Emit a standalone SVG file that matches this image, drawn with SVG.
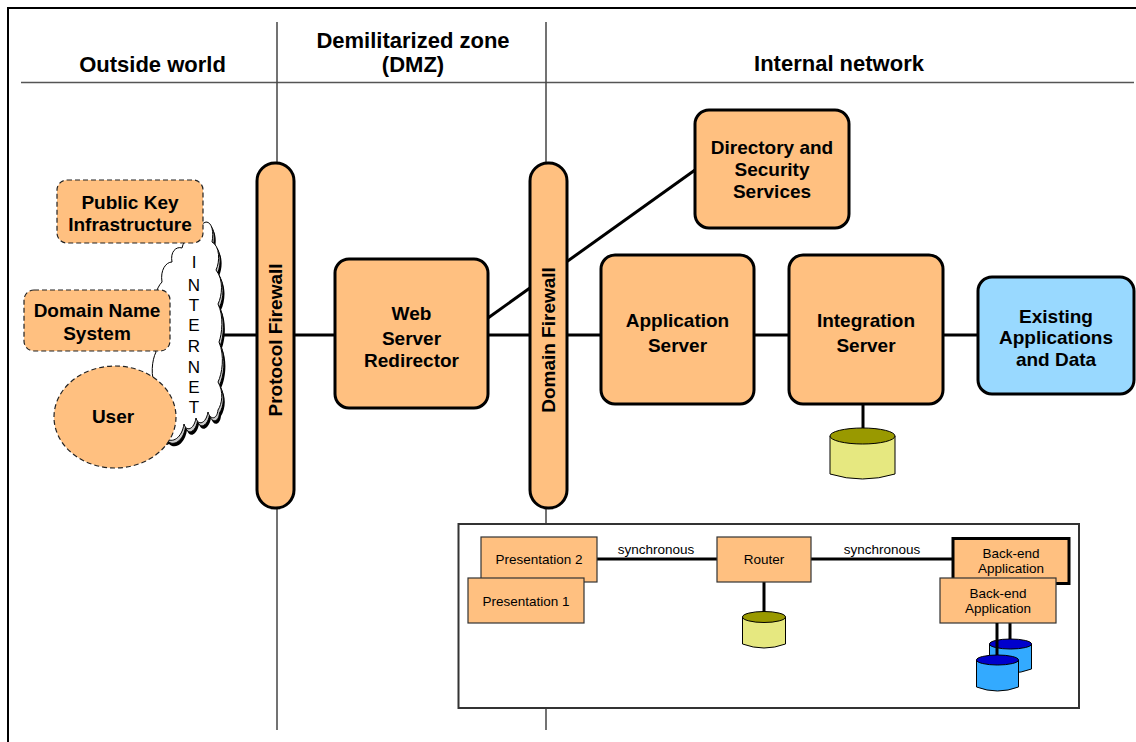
<svg xmlns="http://www.w3.org/2000/svg" width="1136" height="742" viewBox="0 0 1136 742">
<defs>
<style>
text{font-family:"Liberation Sans",Arial,sans-serif;fill:#000}
.hdr{font-size:22px;font-weight:bold;text-anchor:middle}
.nl{font-size:19px;font-weight:bold;text-anchor:middle}
.sm{font-size:13.5px;text-anchor:middle}
.let{font-size:17px;text-anchor:middle}
.box{fill:#FFC080;stroke:#000;stroke-width:3}
.dash{fill:#FFC080;stroke:#222;stroke-width:1.2;stroke-dasharray:5,3}
.sbox{fill:#FFC080;stroke:#333;stroke-width:1.2}
.conn{stroke:#000;stroke-width:3;fill:none}
.grid{stroke:#444;stroke-width:1.5;fill:none}
</style>
<path id="cloud" d="M206 222 C212 222 214 232 212 242 C220 246 220 262 216 270 C224 280 222 296 218 304 C224 316 222 334 219 342 C225 356 222 374 218 382 C224 392 222 404 218 410 C217 420 210 420 208 412 C206 424 198 426 196 418 C194 430 186 432 184 424 C182 438 172 444 166 438 C160 442 154 432 158 422 C150 410 152 396 156 388 C150 376 152 360 156 352 C150 338 152 324 157 316 C152 302 156 288 162 282 C160 270 166 262 172 262 C170 252 176 246 182 248 C184 238 192 236 196 240 C196 230 200 224 206 222 Z"/>
</defs>
<rect width="1136" height="742" fill="#fff"/>
<!-- frame and zone lines -->
<g id="frame">
<path d="M8 742 V8 H1136" stroke="#000" stroke-width="2" fill="none"/>
<line x1="21" y1="82.5" x2="1134" y2="82.5" stroke="#555" stroke-width="1.5"/>
<line x1="277" y1="22" x2="277" y2="730" class="grid"/>
<line x1="546" y1="22" x2="546" y2="730" class="grid"/>
<text class="hdr" x="152.5" y="72">Outside world</text>
<text class="hdr" x="413" y="48">Demilitarized zone</text>
<text class="hdr" x="413" y="72">(DMZ)</text>
<text class="hdr" x="839" y="71">Internal network</text>
</g>
<!-- connectors -->
<g id="connectors">
<line class="conn" x1="215" y1="335" x2="258" y2="335"/>
<line class="conn" x1="293" y1="335" x2="336" y2="335"/>
<line class="conn" x1="487" y1="335" x2="531" y2="335"/>
<line class="conn" x1="566" y1="335" x2="602" y2="335"/>
<line class="conn" x1="754" y1="335" x2="790" y2="335"/>
<line class="conn" x1="942" y1="335" x2="978" y2="335"/>
<line class="conn" x1="488" y1="318" x2="695" y2="170"/>
<line class="conn" x1="863" y1="404" x2="863" y2="436"/>
</g>
<g id="internet">
<use href="#cloud" transform="translate(3,6)" fill="#000"/>
<use href="#cloud" transform="translate(1.5,3)" fill="#ccc" stroke="#000" stroke-width="1"/>
<use href="#cloud" fill="#fff" stroke="#000" stroke-width="1"/>
<text class="let" x="194" y="268">I</text>
<text class="let" x="194" y="291">N</text>
<text class="let" x="194" y="311">T</text>
<text class="let" x="194" y="331">E</text>
<text class="let" x="194" y="352">R</text>
<text class="let" x="194" y="373">N</text>
<text class="let" x="194" y="393">E</text>
<text class="let" x="194" y="413">T</text>
</g>
<g id="pki">
<rect class="dash" x="57" y="180" width="146" height="63" rx="10"/>
<text class="nl" x="130" y="209">Public Key</text>
<text class="nl" x="130" y="231">Infrastructure</text>
</g>
<g id="dns">
<rect class="dash" x="24" y="290" width="146" height="61" rx="10"/>
<text class="nl" x="97" y="317">Domain Name</text>
<text class="nl" x="97" y="340">System</text>
</g>
<g id="user">
<ellipse class="dash" cx="115" cy="417" rx="61" ry="51"/>
<text class="nl" x="113" y="423">User</text>
</g>
<g id="protocol-firewall">
<rect class="box" x="257" y="163" width="37" height="345" rx="18"/>
<text class="nl" transform="translate(282,340) rotate(-90)" x="0" y="0">Protocol Firewall</text>
</g>
<g id="web-server">
<rect class="box" x="335" y="259" width="153" height="149" rx="14"/>
<text class="nl" x="411.5" y="320">Web</text>
<text class="nl" x="411.5" y="345">Server</text>
<text class="nl" x="411.5" y="367">Redirector</text>
</g>
<g id="domain-firewall">
<rect class="box" x="530" y="163" width="37" height="345" rx="18"/>
<text class="nl" transform="translate(555,340) rotate(-90)" x="0" y="0">Domain Firewall</text>
</g>
<g id="directory">
<rect class="box" x="695" y="110" width="154" height="118" rx="14"/>
<text class="nl" x="772" y="154">Directory and</text>
<text class="nl" x="772" y="176">Security</text>
<text class="nl" x="772" y="198">Services</text>
</g>
<g id="app-server">
<rect class="box" x="601" y="255" width="153" height="149" rx="14"/>
<text class="nl" x="677.5" y="327">Application</text>
<text class="nl" x="677.5" y="352">Server</text>
</g>
<g id="integration-server">
<rect class="box" x="789" y="255" width="154" height="149" rx="14"/>
<text class="nl" x="866" y="327">Integration</text>
<text class="nl" x="866" y="352">Server</text>
</g>
<g id="existing">
<rect x="978" y="277" width="156" height="117" rx="14" fill="#99D9FF" stroke="#000" stroke-width="3"/>
<text class="nl" x="1056" y="323">Existing</text>
<text class="nl" x="1056" y="344">Applications</text>
<text class="nl" x="1056" y="366">and Data</text>
</g>
<g id="integration-db">
<path d="M830 436 V474 Q862.5 484 895 474 V436" fill="#E6E880" stroke="#000" stroke-width="1"/>
<ellipse cx="862.5" cy="436" rx="32.5" ry="8" fill="#999900" stroke="#000" stroke-width="1"/>
</g>
<!-- inset -->
<g id="inset">
<rect x="458.5" y="524" width="620.5" height="184" fill="#fff" stroke="#333" stroke-width="2"/>
<line class="conn" x1="597" y1="559" x2="717" y2="559"/>
<line class="conn" x1="811" y1="559" x2="952" y2="559"/>
<line class="conn" x1="764" y1="582" x2="764" y2="617"/>
<line class="conn" x1="1010" y1="623" x2="1010" y2="644"/>
<text class="sm" x="656" y="554">synchronous</text>
<text class="sm" x="882" y="554">synchronous</text>
</g>
<g id="presentation2">
<rect class="sbox" x="481" y="537" width="116" height="45"/>
<text class="sm" x="539" y="564">Presentation 2</text>
</g>
<g id="presentation1">
<rect class="sbox" x="468" y="578" width="116" height="45"/>
<text class="sm" x="526" y="606">Presentation 1</text>
</g>
<g id="router">
<rect class="sbox" x="717" y="537" width="94" height="45"/>
<text class="sm" x="764" y="564">Router</text>
</g>
<g id="router-db">
<path d="M742.5 617 V644 Q764 652 785.5 644 V617" fill="#E6E880" stroke="#000" stroke-width="1"/>
<ellipse cx="764" cy="617" rx="21.5" ry="5.5" fill="#999900" stroke="#000" stroke-width="1"/>
</g>
<g id="backend2">
<rect x="953" y="538.5" width="116" height="45" fill="#FFC080" stroke="#000" stroke-width="3"/>
<text class="sm" x="1011" y="558">Back-end</text>
<text class="sm" x="1011" y="573">Application</text>
</g>
<g id="backend1">
<rect class="sbox" x="940" y="578" width="116" height="45"/>
<text class="sm" x="998" y="598">Back-end</text>
<text class="sm" x="998" y="613">Application</text>
</g>
<g id="backend-db">
<path d="M989.5 644 V669 Q1010.5 677 1031.5 669 V644" fill="#33AAFF" stroke="#000" stroke-width="1"/>
<ellipse cx="1010.5" cy="644" rx="21" ry="5" fill="#0000CC" stroke="#000" stroke-width="1"/>
<line class="conn" x1="997" y1="623" x2="997" y2="660"/>
<path d="M976.5 660 V687 Q997.5 695 1018.5 687 V660" fill="#33AAFF" stroke="#000" stroke-width="1"/>
<ellipse cx="997.5" cy="660" rx="21" ry="5" fill="#0000CC" stroke="#000" stroke-width="1"/>
</g>
</svg>
